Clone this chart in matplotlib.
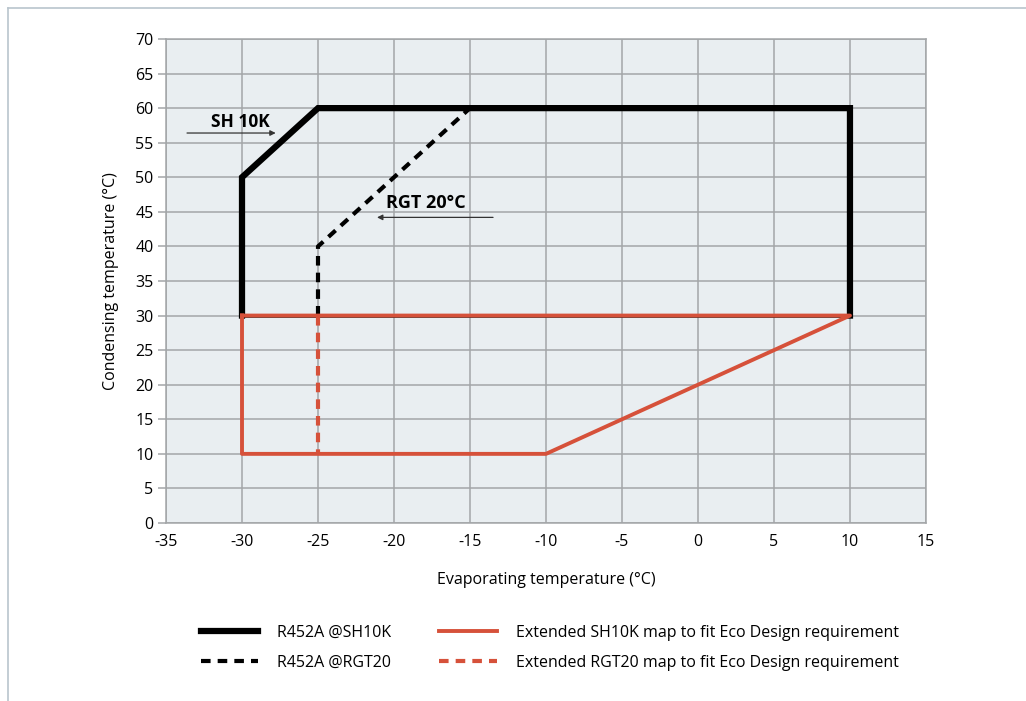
import matplotlib.pyplot as plt
from matplotlib.lines import Line2D

plt.rcParams['font.family'] = ['Open Sans', 'DejaVu Sans']
plt.rcParams['axes.unicode_minus'] = False

# operating envelopes, (evaporating, condensing) corners
sh10k_x = [-30, -30, -25, 10, 10]
sh10k_y = [30, 50, 60, 60, 30]
base_x = [-30, 10]
base_y = [30, 30]
rgt20_x = [-25, -25, -15]
rgt20_y = [30, 40, 60]
ext_sh10k_x = [-30, -30, -10, 10, -30]
ext_sh10k_y = [30, 10, 10, 30, 30]
ext_rgt20_x = [-25, -25]
ext_rgt20_y = [30, 10]

labels = ['R452A @SH10K', 'R452A @RGT20',
          'Extended SH10K map to fit Eco Design requirement',
          'Extended RGT20 map to fit Eco Design requirement']

red = '#d6513a'
grid = '#a3a6a8'

fig = plt.figure(figsize=(10.26, 7.01), dpi=100)
ax = fig.add_axes([0.1618, 0.2539, 0.7407, 0.6905])
ax.set_facecolor('#e9eef1')

ax.plot(base_x, base_y, color='black', lw=1.8, zorder=3)
l1, = ax.plot(sh10k_x, sh10k_y, color='black', lw=4.5, solid_joinstyle='miter', zorder=4)
l2, = ax.plot(rgt20_x, rgt20_y, color='black', lw=3, ls=(0, (2.3, 1.7)), zorder=4)
l3, = ax.plot(ext_sh10k_x, ext_sh10k_y, color=red, lw=2.8, zorder=5)
l4, = ax.plot(ext_rgt20_x, ext_rgt20_y, color=red, lw=3, ls=(0, (2.3, 1.7)), zorder=5)

ax.text(-30.1, 58.0, 'SH 10K', fontsize=12.5, fontweight='bold', ha='center', va='center')
ax.annotate('', xy=(-27.6, 56.4), xytext=(-33.8, 56.4),
            arrowprops=dict(arrowstyle='-|>', color='#333333', lw=0.9, mutation_scale=8))
ax.text(-17.9, 46.3, 'RGT 20°C', fontsize=13, fontweight='bold', ha='center', va='center')
ax.annotate('', xy=(-21.3, 44.2), xytext=(-13.3, 44.2),
            arrowprops=dict(arrowstyle='-|>', color='#333333', lw=0.9, mutation_scale=8))

ax.set_xlim(-35, 15)
ax.set_ylim(0, 70)
ax.set_xticks(range(-35, 16, 5))
ax.set_yticks(range(0, 71, 5))
ax.grid(True, color=grid, lw=1.1)
ax.set_axisbelow(True)
for s in ax.spines.values():
    s.set_color(grid)
    s.set_linewidth(1.1)
ax.tick_params(axis='x', length=0, pad=8, labelsize=11.5)
ax.tick_params(axis='y', length=6, width=1.1, color=grid, pad=3, labelsize=11.5)
ax.set_xlabel('Evaporating temperature (°C)', fontsize=11.5, labelpad=16)
ax.set_ylabel('Condensing temperature (°C)', fontsize=11.5, labelpad=12)

fig.legend([l1, l2, l3, l4], labels, ncol=2, frameon=False, fontsize=11.5,
           loc='center', bbox_to_anchor=(0.536, 0.076), handlelength=3.6,
           handletextpad=1.2, columnspacing=3.0, labelspacing=0.85)

fig.add_artist(Line2D([0.0078, 1.0], [0.9886, 0.9886], color='#b9c5cd', lw=1.2))
fig.add_artist(Line2D([0.0078, 0.0078], [0.0, 0.9886], color='#b9c5cd', lw=1.2))

fig.savefig('out.png', dpi=100)
